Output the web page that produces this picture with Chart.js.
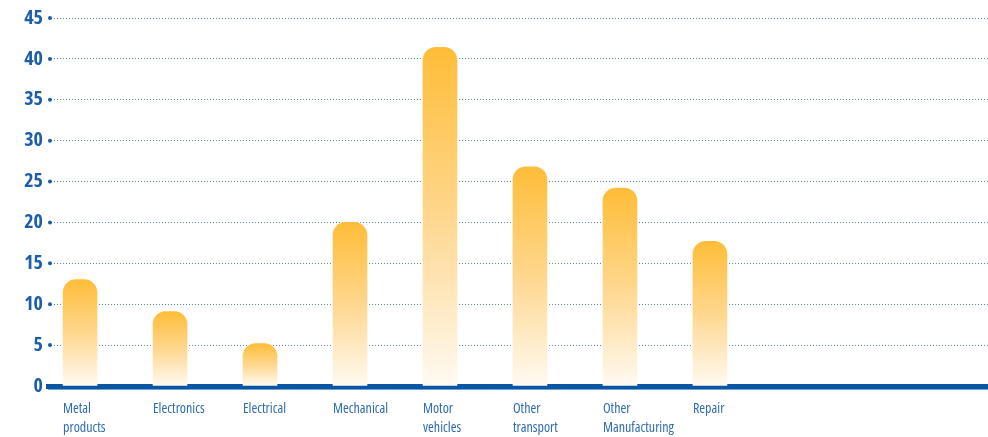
<!DOCTYPE html>
<html>
<head>
<meta charset="utf-8">
<script src="https://cdn.jsdelivr.net/npm/chart.js@4/dist/chart.umd.min.js"></script>
<style>
  html, body { margin: 0; padding: 0; background: #fff; }
  #wrap { width: 988px; height: 437px; position: relative; }
</style>
</head>
<body>
<div id="wrap"><canvas id="myChart"></canvas></div>
<script>
const categories = ['Metal products', 'Electronics', 'Electrical', 'Mechanical', 'Motor vehicles', 'Other transport', 'Other Manufacturing', 'Repair'];
const values = [13, 9.1, 5.2, 20, 41.4, 26.8, 24.2, 17.7];
const yTicks = [0, 5, 10, 15, 20, 25, 30, 35, 40, 45];

const ctx = document.getElementById('myChart').getContext('2d');
const narrow = "'Open Sans', 'Roboto', sans-serif";

// bar fill fades from orange at the top of each bar to almost white at the base
function barFill(context){
  const chart = context.chart;
  if(context.type !== 'data' || !chart.scales.y){
    return '#FFBE3B';
  }
  const y = chart.scales.y;
  const top = y.getPixelForValue(context.parsed.y);
  const bottom = y.getPixelForValue(0);
  if(!isFinite(top) || !isFinite(bottom) || top === bottom){
    return '#FFBE3B';
  }
  const g = chart.ctx.createLinearGradient(0, top, 0, bottom);
  g.addColorStop(0, '#FFBD38');
  g.addColorStop(0.5, '#FED78E');
  g.addColorStop(1, '#FFFAF2');
  return g;
}

// small round marker at the start of each grid line
const tickDots = {
  id: 'tickDots',
  afterDraw(chart){
    const c = chart.ctx;
    const y = chart.scales.y;
    c.save();
    c.fillStyle = '#1c5ea8';
    y.ticks.forEach(function(t){
      if(t.value === 0) return;
      c.beginPath();
      c.arc(chart.chartArea.left + 2, y.getPixelForValue(t.value), 2, 0, Math.PI * 2);
      c.fill();
    });
    // thin light line under the thick base line
    c.strokeStyle = '#6f9fd3';
    c.lineWidth = 1;
    c.beginPath();
    c.moveTo(chart.chartArea.left, chart.chartArea.bottom + 3.5);
    c.lineTo(chart.chartArea.right, chart.chartArea.bottom + 3.5);
    c.stroke();
    c.restore();
  }
};

const myChart = new Chart(ctx, {
  type: 'bar',
  data: {
    datasets: [{
      data: values.map(function(v, i){ return {x: i, y: v}; }),
      backgroundColor: barFill,
      borderWidth: 0,
      borderSkipped: 'bottom',
      borderRadius: {topLeft: 13, topRight: 13, bottomLeft: 0, bottomRight: 0},
      barThickness: 34
    }]
  },
  plugins: [tickDots],
  options: {
    responsive: true,
    maintainAspectRatio: false,
    animation: false,
    layout: { padding: {top: 18, right: 0, bottom: 0, left: 0} },
    plugins: {
      legend: { display: false },
      tooltip: { enabled: false }
    },
    scales: {
      x: {
        type: 'linear',
        offset: false,
        min: -0.356,
        max: 10.09,
        afterBuildTicks: function(s){
          s.ticks = categories.map(function(c, i){ return {value: i}; });
        },
        afterFit: function(s){ s.height = 51; },
        grid: { display: false, drawTicks: false },
        border: { display: true, width: 5, color: '#0b56a3' },
        ticks: {
          autoSkip: false,
          maxRotation: 0,
          align: 'start',
          labelOffset: -17,
          padding: 14,
          color: '#2f6cb0',
          font: { family: narrow, size: 14, weight: 'condensed', lineHeight: 1.35 },
          callback: function(v){
            const name = categories[v];
            return name ? name.split(' ') : '';
          }
        }
      },
      y: {
        min: 0,
        max: 45,
        afterBuildTicks: function(s){
          s.ticks = yTicks.map(function(v){ return {value: v}; });
        },
        afterFit: function(s){ s.width = 48; },
        grid: {
          drawTicks: false,
          color: '#4f86c2',
          lineWidth: 1
        },
        border: { display: false, dash: [1, 2] },
        ticks: {
          padding: 5,
          color: '#1c5ea8',
          font: { family: narrow, size: 20, weight: 'bold condensed' }
        }
      }
    }
  }
});
</script>
</body>
</html>
